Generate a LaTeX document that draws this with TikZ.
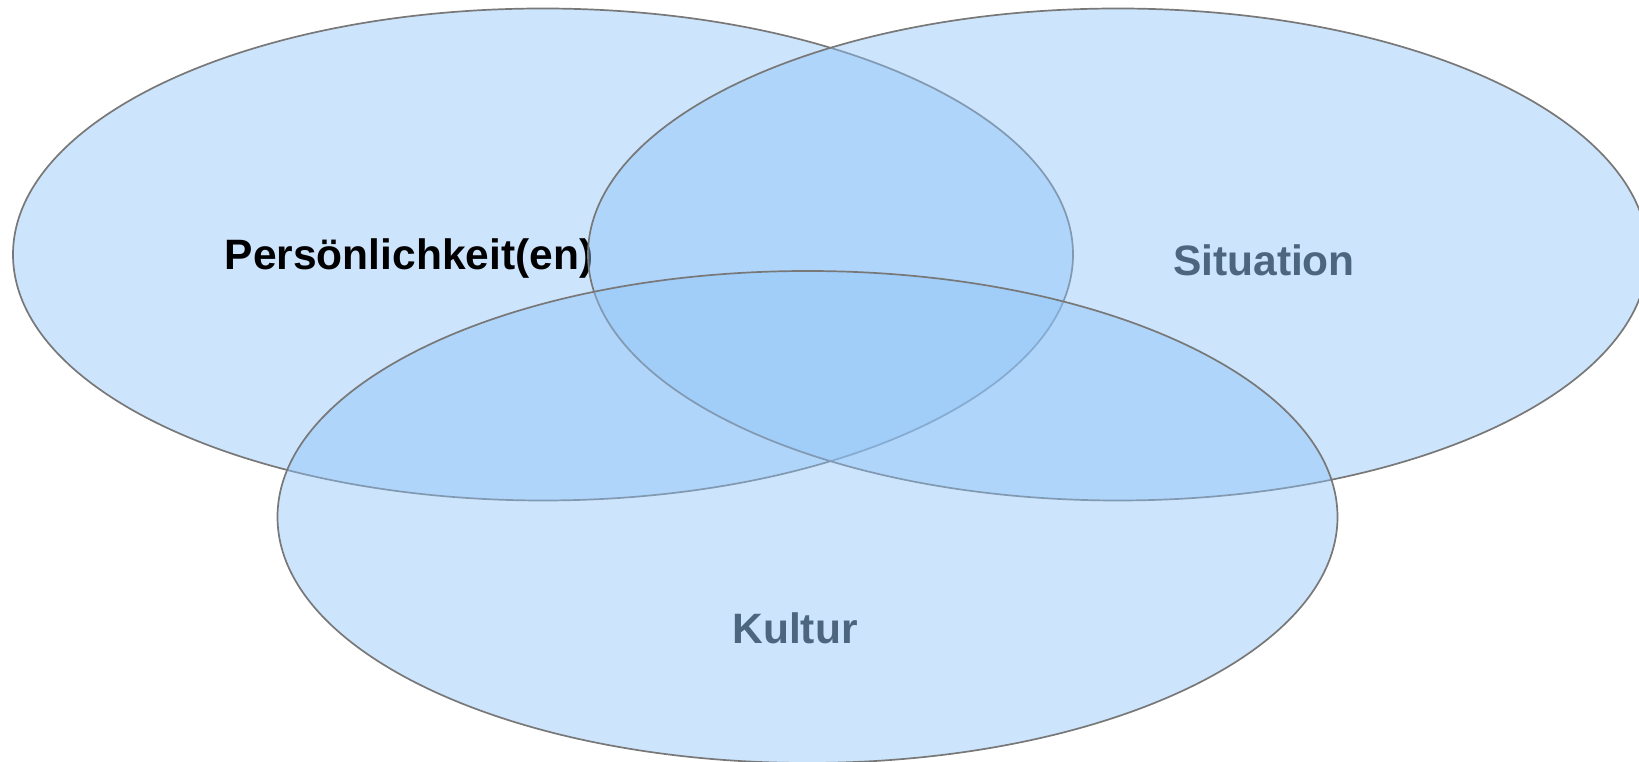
\documentclass[tikz,border=0pt]{standalone}
\usepackage{fontspec}
\setmainfont{Liberation Sans}
\definecolor{vennfill}{RGB}{142,195,248}
\definecolor{vennline}{RGB}{120,120,120}
\definecolor{labelgray}{RGB}{76,102,128}
\tikzset{
  venn/.style={fill=vennfill, fill opacity=0.45, draw=vennline, draw opacity=1, line width=1.7pt},
  vlabel/.style={anchor=base, inner sep=0pt, font=\fontsize{42.5}{50}\selectfont\bfseries}
}
\begin{document}
\begin{tikzpicture}[x=1pt,y=1pt]
\useasboundingbox (0,0) rectangle (1639,762);
\clip (0,0) rectangle (1639,762);
\coordinate (c1) at (543,507.5);
\coordinate (c2) at (1118,507.5);
\coordinate (c3) at (807.5,245);
\path[venn] (c1) ellipse [x radius=530, y radius=246];
\node[vlabel, text=black] (p) at (409,492.7) {Persönlichkeit(en)};
\path[venn] (c2) ellipse [x radius=530, y radius=246];
\node[vlabel, text=labelgray] (s) at (1264,486.3) {Situation};
\path[venn] (c3) ellipse [x radius=530, y radius=246];
\node[vlabel, text=labelgray] (k) at (795,118) {Kultur};
\end{tikzpicture}
\end{document}
